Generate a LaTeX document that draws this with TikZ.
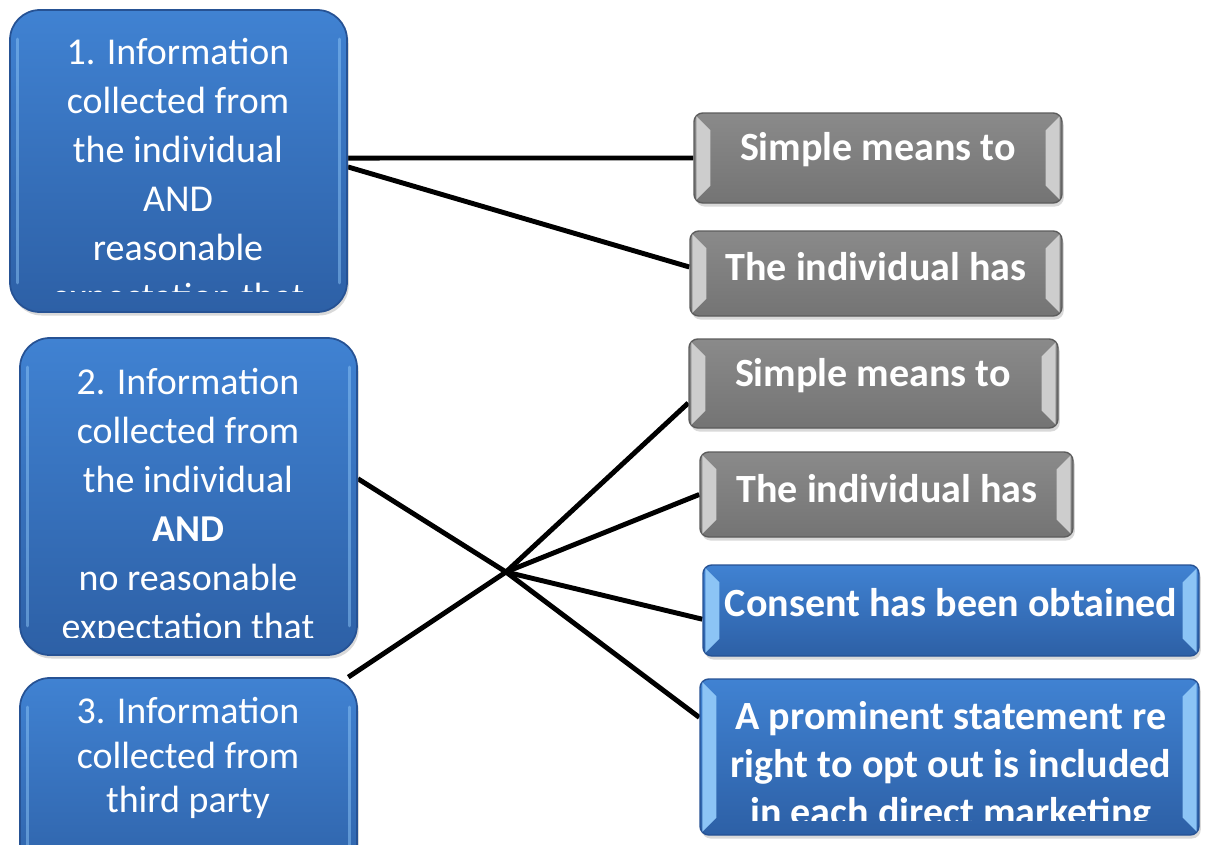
\documentclass[tikz,border=0pt]{standalone}
\usepackage{fontspec}
\setmainfont{Carlito}
\usetikzlibrary{calc,positioning,shadows,backgrounds}
\definecolor{fillblue}{RGB}{64,130,210}
\definecolor{fillbluedark}{RGB}{45,96,166}
\definecolor{edgeblue}{RGB}{38,82,148}
\definecolor{glossblue}{RGB}{140,196,245}
\definecolor{fillgray}{RGB}{138,138,138}
\definecolor{fillgraydark}{RGB}{116,116,116}
\definecolor{edgegray}{RGB}{92,92,92}
\definecolor{glossgray}{RGB}{205,205,205}
\newlength{\pxu}
\setlength{\pxu}{0.02cm}

% riflessi laterali dei riquadri a sinistra
\newcommand{\glossbox}[1]{%
  \draw[gloss] ($(#1.north west)+(8,30)$) -- ($(#1.south west)+(8,-30)$);
  \draw[gloss] ($(#1.north east)+(-8,30)$) -- ($(#1.south east)+(-8,-30)$);}
% smusso dei riquadri a destra
\newcommand{\bevelbox}[2]{%
  \fill[#2] ($(#1.north west)+(3,4)$) -- ($(#1.north west)+(17,18)$) -- ($(#1.south west)+(17,-18)$) -- ($(#1.south west)+(3,-4)$) -- cycle;
  \fill[#2] ($(#1.north east)+(-3,4)$) -- ($(#1.north east)+(-17,18)$) -- ($(#1.south east)+(-17,-18)$) -- ($(#1.south east)+(-3,-4)$) -- cycle;}

\begin{document}
\begin{tikzpicture}[x=0.02cm, y=-0.02cm,
    srcbox/.style={draw=edgeblue, line width=1pt, rounded corners=17pt, inner sep=0pt,
      top color=fillblue, bottom color=fillbluedark,
      drop shadow={opacity=.3, shadow xshift=1pt, shadow yshift=-2pt}},
    planblue/.style={draw=edgeblue, line width=.8pt, rounded corners=5pt, inner sep=0pt,
      top color=fillblue, bottom color=fillbluedark,
      drop shadow={opacity=.3, shadow xshift=1pt, shadow yshift=-2pt}},
    plangray/.style={draw=edgegray, line width=.8pt, rounded corners=5pt, inner sep=0pt,
      top color=fillgray, bottom color=fillgraydark,
      drop shadow={opacity=.3, shadow xshift=1pt, shadow yshift=-2pt}},
    gloss/.style={glossblue, line width=3\pxu, line cap=round, opacity=.5},
    srctext/.style={text=white, align=center, inner sep=0pt,
      font=\fontsize{21.6}{27.9}\selectfont},
    plantext/.style={text=white, align=center, inner sep=0pt,
      font=\bfseries\fontsize{22.8}{27.3}\selectfont},
    spoke/.style={line width=2.8pt, black}]
  \useasboundingbox (0,0) rectangle (1205,845);
  \clip (0,0) rectangle (1205,845);

  % riquadri a sinistra
  \node[srcbox, minimum width=337\pxu, minimum height=302\pxu] (src1) at (178.5,161) {};
  \node[srcbox, minimum width=337\pxu, minimum height=317\pxu] (src2) at (188.5,496.5) {};
  \node[srcbox, minimum width=337\pxu, minimum height=222\pxu] (src3) at (188.5,789) {};
  \glossbox{src1}
  \glossbox{src2}
  \glossbox{src3}

  % riquadri a destra
  \node[plangray, minimum width=368\pxu, minimum height=90\pxu] (plan1) at (878,158) {};
  \node[plangray, minimum width=372\pxu, minimum height=85\pxu] (plan2) at (876,273.5) {};
  \node[plangray, minimum width=369\pxu, minimum height=89\pxu] (plan3) at (873.5,383.5) {};
  \node[plangray, minimum width=373\pxu, minimum height=85\pxu] (plan4) at (886.5,494.5) {};
  \node[planblue, minimum width=496\pxu, minimum height=91\pxu] (plan5) at (951,610.5) {};
  \node[planblue, minimum width=499\pxu, minimum height=156\pxu] (plan6) at (949.5,757) {};
  \bevelbox{plan1}{glossgray}
  \bevelbox{plan2}{glossgray}
  \bevelbox{plan3}{glossgray}
  \bevelbox{plan4}{glossgray}
  \bevelbox{plan5}{glossblue}
  \bevelbox{plan6}{glossblue}

  % testi (tagliati in basso come nell'originale)
  \begin{scope}
    \clip (10,10) rectangle (347,291);
    \node[srctext] (src1txt) at (178,177)
      {1. Information\\collected from\\the individual\\AND\\reasonable\\expectation that};
  \end{scope}
  \begin{scope}
    \clip (20,338) rectangle (357,637);
    \node[srctext] (src2txt) at (188,507)
      {2. Information\\collected from\\the individual\\\textbf{AND}\\no reasonable\\expectation that};
  \end{scope}
  \node[srctext, font=\fontsize{21.6}{25.3}\selectfont] (src3txt) at (188,758)
    {3. Information\\collected from\\third party};

  \node[plantext] (plan1txt) at (878,150) {Simple means to};
  \node[plantext] (plan2txt) at (876,267) {The individual has};
  \node[plantext] (plan3txt) at (873,376) {Simple means to};
  \node[plantext] (plan4txt) at (887,489) {The individual has};
  \node[plantext] (plan5txt) at (951,603) {Consent has been obtained};
  \begin{scope}
    \clip (700,679) rectangle (1199,820);
    \node[plantext] (plan6txt) at (951,767)
      {A prominent statement re\\right to opt out is included\\in each direct marketing};
  \end{scope}

  % collegamenti
  \coordinate (hub) at (506,572);
  \begin{scope}[on background layer]
    \draw[spoke] (src1.1) -- (plan1.west);
    \draw[spoke] (src1.-2) -- (plan2.178);
    \draw[spoke] (src2.6) -- (hub);
    \draw[spoke] (src3.35) -- (hub);
    \draw[spoke] (hub) -- (plan3.186);
    \draw[spoke] (hub) -- (plan4.west);
    \draw[spoke] (hub) -- (plan5.182);
    \draw[spoke] (hub) -- (plan6.171);
  \end{scope}
\end{tikzpicture}
\end{document}
